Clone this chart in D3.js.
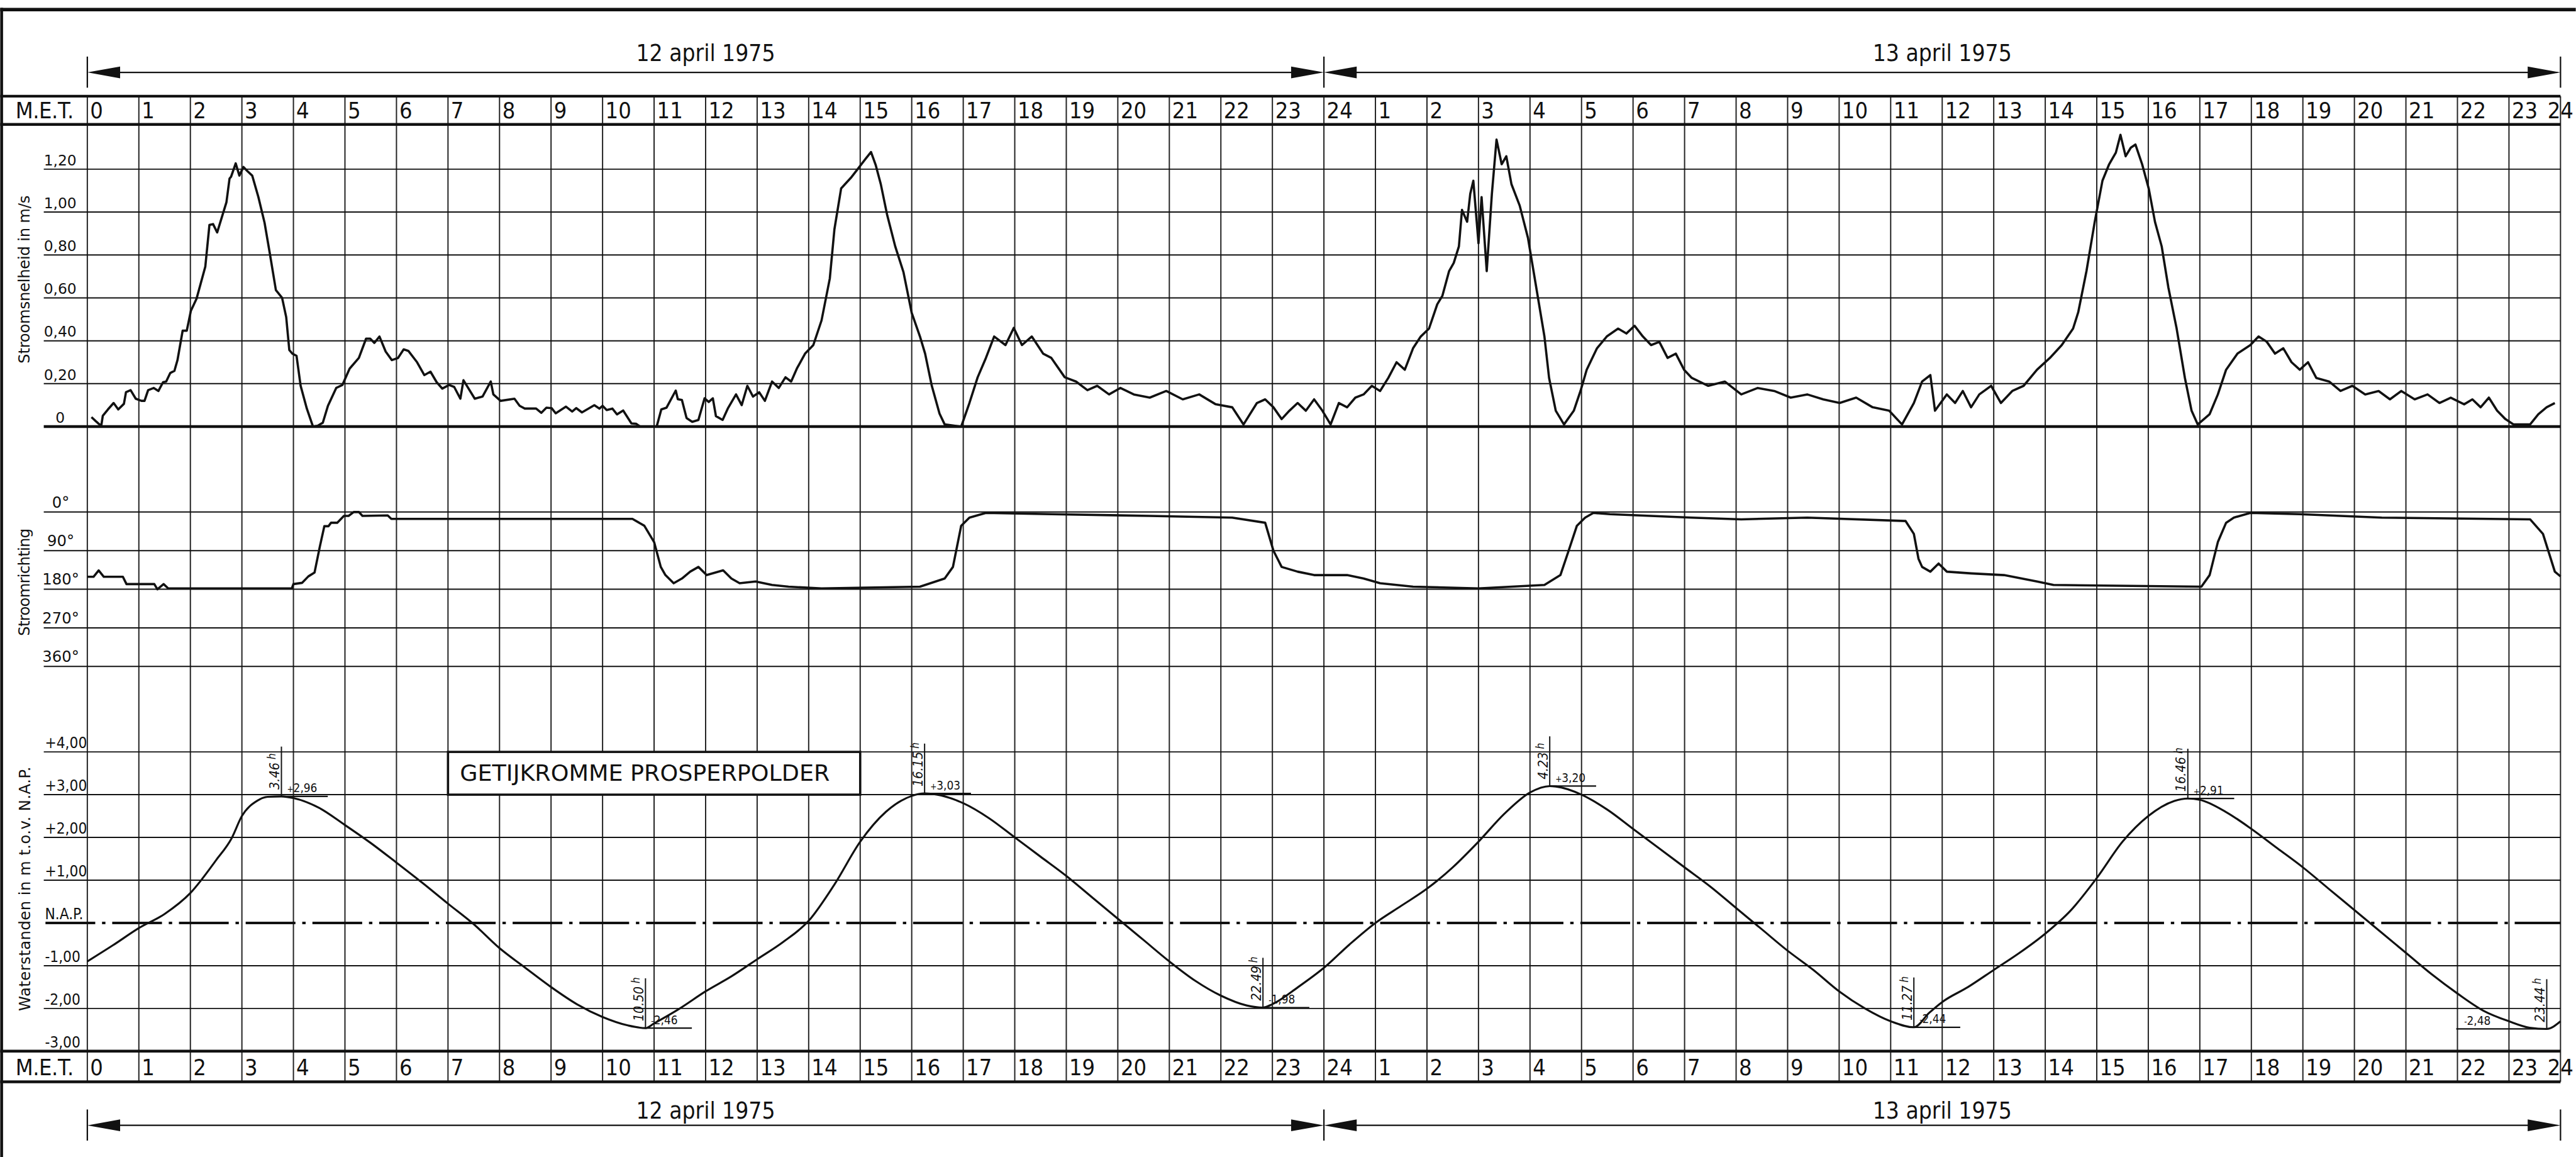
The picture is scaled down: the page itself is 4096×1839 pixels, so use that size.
<!DOCTYPE html>
<html>
<head>
<meta charset="utf-8">
<script src="https://cdn.jsdelivr.net/npm/d3@7"></script>
<style>
  html, body { margin: 0; padding: 0; background: #fff; overflow: hidden; }
  svg { display: block; }
</style>
</head>
<body>
<script>
// ---------- DATA ----------
var hourLabels = ["0","1","2","3","4","5","6","7","8","9","10","11","12","13","14","15","16","17","18","19","20","21","22","23",
                  "24","1","2","3","4","5","6","7","8","9","10","11","12","13","14","15","16","17","18","19","20","21","22","23","24"];
var dayLabels = ["12 april 1975", "13 april 1975"];

var speedTicks = [0, 0.2, 0.4, 0.6, 0.8, 1.0, 1.2];
var speedTickLabels = ["0", "0,20", "0,40", "0,60", "0,80", "1,00", "1,20"];
var dirTicks = [0, 90, 180, 270, 360];
var dirTickLabels = ["0°", "90°", "180°", "270°", "360°"];
var tideTicks = [4, 3, 2, 1, 0, -1, -2, -3];
var tideTickLabels = ["+4,00", "+3,00", "+2,00", "+1,00", "N.A.P.", "-1,00", "-2,00", "-3,00"];

// stroomsnelheid (m/s) : [hour, value]
var speed = [[0.08,0.044],[0.16,0.026],[0.27,0.003],[0.30,0.05],[0.40,0.08],[0.51,0.11],[0.60,0.08],[0.71,0.106],[0.75,0.16],[0.84,0.17],
  [0.94,0.13],[1.05,0.12],[1.11,0.12],[1.18,0.17],[1.29,0.18],[1.38,0.166],[1.47,0.207],[1.53,0.21],[1.61,0.25],[1.69,0.26],[1.75,0.31],
  [1.85,0.447],[1.93,0.447],[2.01,0.54],[2.12,0.596],[2.29,0.746],[2.37,0.94],[2.44,0.944],[2.52,0.905],[2.70,1.046],[2.76,1.156],
  [2.79,1.165],[2.88,1.227],[2.95,1.17],[3.03,1.21],[3.11,1.19],[3.20,1.17],[3.32,1.07],[3.44,0.95],[3.54,0.81],[3.66,0.636],[3.78,0.60],
  [3.86,0.51],[3.92,0.357],[3.98,0.34],[4.06,0.33],[4.14,0.19],[4.26,0.084],[4.38,0.0],[4.47,0.004],[4.57,0.018],[4.67,0.097],[4.83,0.18],
  [4.95,0.194],[5.09,0.27],[5.27,0.32],[5.41,0.41],[5.49,0.41],[5.57,0.39],[5.67,0.42],[5.79,0.35],[5.91,0.31],[6.03,0.32],[6.14,0.36],
  [6.23,0.353],[6.40,0.30],[6.54,0.24],[6.66,0.256],[6.78,0.207],[6.89,0.177],[7.02,0.194],[7.12,0.185],[7.24,0.13],[7.30,0.216],[7.52,0.13],
  [7.67,0.14],[7.83,0.21],[7.88,0.15],[8.02,0.12],[8.29,0.13],[8.39,0.097],[8.49,0.084],[8.71,0.084],[8.81,0.064],[8.91,0.088],[9.01,0.086],
  [9.09,0.062],[9.29,0.093],[9.41,0.07],[9.49,0.086],[9.60,0.066],[9.84,0.10],[9.94,0.084],[10.0,0.097],[10.08,0.077],[10.19,0.084],
  [10.28,0.057],[10.40,0.075],[10.56,0.015],[10.65,0.013],[10.73,0.0],[11.05,0.0],[11.14,0.08],[11.24,0.088],[11.42,0.168],[11.46,0.128],
  [11.54,0.124],[11.63,0.04],[11.74,0.022],[11.86,0.031],[11.98,0.132],[12.06,0.115],[12.14,0.132],[12.2,0.049],[12.33,0.031],[12.43,0.084],
  [12.59,0.15],[12.7,0.10],[12.81,0.19],[12.92,0.14],[13.04,0.16],[13.15,0.12],[13.29,0.21],[13.42,0.18],[13.55,0.23],[13.66,0.21],
  [13.77,0.27],[13.93,0.34],[14.09,0.38],[14.25,0.495],[14.41,0.69],[14.5,0.92],[14.63,1.11],[14.82,1.16],[14.95,1.20],[15.11,1.25],
  [15.21,1.28],[15.3,1.22],[15.4,1.13],[15.52,0.99],[15.68,0.84],[15.84,0.72],[16.0,0.53],[16.16,0.42],[16.26,0.34],[16.39,0.19],
  [16.54,0.06],[16.64,0.01],[16.96,0.0],[17.12,0.11],[17.28,0.23],[17.44,0.32],[17.6,0.42],[17.82,0.38],[17.98,0.46],[18.14,0.38],
  [18.33,0.42],[18.55,0.34],[18.71,0.32],[18.97,0.23],[19.19,0.21],[19.41,0.17],[19.6,0.19],[19.83,0.15],[20.05,0.18],[20.31,0.15],
  [20.62,0.135],[20.94,0.166],[21.26,0.127],[21.58,0.15],[21.9,0.104],[22.22,0.09],[22.44,0.01],[22.7,0.11],[22.86,0.127],[23.02,0.09],
  [23.18,0.035],[23.33,0.074],[23.49,0.11],[23.65,0.074],[23.81,0.127],[23.97,0.074],[24.13,0.01],[24.29,0.11],[24.45,0.09],[24.61,0.135],
  [24.77,0.15],[24.93,0.19],[25.09,0.166],[25.25,0.227],[25.41,0.30],[25.57,0.265],[25.73,0.365],[25.88,0.42],[26.04,0.457],[26.2,0.57],
  [26.3,0.61],[26.43,0.725],[26.52,0.763],[26.62,0.84],[26.68,1.01],[26.78,0.955],[26.84,1.085],[26.9,1.146],[27.0,0.855],[27.06,1.07],
  [27.16,0.725],[27.26,1.085],[27.35,1.338],[27.45,1.223],[27.54,1.26],[27.64,1.13],[27.8,1.03],[27.96,0.88],[28.12,0.65],[28.28,0.42],
  [28.37,0.227],[28.5,0.074],[28.66,0.01],[28.85,0.074],[28.98,0.166],[29.1,0.265],[29.3,0.365],[29.49,0.42],[29.71,0.457],[29.87,0.434],
  [30.03,0.47],[30.19,0.42],[30.35,0.38],[30.51,0.395],[30.67,0.32],[30.83,0.34],[30.99,0.265],[31.14,0.227],[31.46,0.19],[31.78,0.21],
  [32.1,0.15],[32.42,0.18],[32.74,0.166],[33.06,0.135],[33.38,0.15],[33.69,0.127],[34.01,0.11],[34.33,0.135],[34.65,0.09],[34.97,0.074],
  [35.22,0.01],[35.45,0.11],[35.61,0.21],[35.77,0.24],[35.86,0.074],[36.09,0.15],[36.25,0.11],[36.4,0.166],[36.56,0.09],[36.72,0.15],
  [36.95,0.19],[37.14,0.11],[37.36,0.166],[37.58,0.19],[37.84,0.265],[38.09,0.32],[38.32,0.38],[38.54,0.457],[38.64,0.533],[38.8,0.725],
  [38.96,0.954],[39.11,1.146],[39.24,1.223],[39.37,1.277],[39.46,1.36],[39.56,1.26],[39.66,1.3],[39.75,1.315],[39.88,1.223],[40.01,1.108],
  [40.13,0.954],[40.26,0.84],[40.39,0.648],[40.55,0.457],[40.71,0.227],[40.84,0.074],[40.96,0.01],[41.19,0.058],[41.35,0.15],[41.51,0.265],
  [41.73,0.34],[41.98,0.38],[42.14,0.42],[42.3,0.395],[42.46,0.34],[42.62,0.365],[42.78,0.30],[42.94,0.265],[43.1,0.30],[43.26,0.227],
  [43.51,0.21],[43.73,0.166],[43.96,0.19],[44.21,0.15],[44.47,0.166],[44.69,0.127],[44.91,0.166],[45.17,0.127],[45.42,0.15],[45.65,0.11],
  [45.87,0.135],[46.13,0.104],[46.29,0.127],[46.45,0.09],[46.61,0.135],[46.77,0.074],[46.93,0.035],[47.09,0.01],[47.41,0.01],[47.57,0.058],
  [47.73,0.09],[47.89,0.11]];

// stroomrichting (graden) : [hour, degrees]
var direction = [[0,151],[0.12,151],[0.22,136],[0.32,151],[0.69,151],[0.76,168],[1.3,168],[1.36,180],[1.48,168],[1.57,178],[3.97,178],
  [4.0,168],[4.17,165],[4.29,150],[4.41,141],[4.51,82],[4.6,33],[4.68,33],[4.73,25],[4.85,25],[4.98,9],[5.07,9],[5.17,0],[5.27,0],
  [5.34,9],[5.83,8],[5.9,16],[10.58,16],[10.81,32],[11.0,70],[11.13,128],[11.22,147],[11.38,166],[11.54,155],[11.7,139],[11.86,128],
  [12.02,147],[12.34,136],[12.5,155],[12.66,166],[12.97,162],[13.29,170],[13.61,174],[14.25,178],[16.16,174],[16.64,155],[16.8,128],
  [16.96,32],[17.12,13],[17.44,2],[18.71,5],[20.62,9],[22.22,13],[22.86,25],[23.02,90],[23.18,128],[23.49,139],[23.81,147],[24.45,147],
  [24.77,155],[25.09,166],[25.73,174],[27.0,178],[28.28,170],[28.59,147],[28.75,90],[28.91,32],[29.07,13],[29.23,2],[29.55,5],[31.14,13],
  [32.1,17],[33.38,13],[35.29,21],[35.45,51],[35.54,109],[35.61,128],[35.77,139],[35.93,120],[36.09,139],[36.56,143],[37.2,147],
  [37.84,162],[38.16,170],[41.03,174],[41.19,147],[41.35,70],[41.51,25],[41.66,13],[41.98,2],[42.94,5],[44.53,13],[47.41,17],[47.66,51],
  [47.89,139],[48,150]];

// waterstand (m t.o.v. N.A.P.) : [hour, level]
var tide = [[0,-0.90],[0.5,-0.52],[1,-0.12],[1.5,0.21],[2,0.70],[2.5,1.47],[2.8,1.98],[3,2.50],[3.3,2.86],[3.5,2.95],[3.767,2.96],
  [4,2.92],[4.5,2.69],[5,2.29],[5.5,1.87],[6,1.41],[6.5,0.94],[7,0.45],[7.5,-0.03],[8,-0.59],[8.5,-1.05],[9,-1.5],[9.5,-1.9],[10,-2.2],
  [10.5,-2.4],[10.833,-2.46],[11,-2.35],[11.5,-2.0],[12,-1.6],[12.5,-1.25],[13,-0.85],[13.5,-0.45],[14,0.05],[14.5,0.9],[15,1.9],
  [15.5,2.6],[16,2.97],[16.25,3.03],[16.5,3.0],[17,2.8],[17.5,2.45],[18,2.0],[18.5,1.55],[19,1.1],[19.5,0.6],[20,0.1],[20.5,-0.4],
  [21,-0.9],[21.5,-1.35],[22,-1.7],[22.5,-1.93],[22.817,-1.98],[23,-1.9],[23.5,-1.5],[24,-1.05],[24.5,-0.5],[25,0.0],[25.5,0.4],
  [26,0.8],[26.5,1.3],[27,1.9],[27.5,2.55],[28,3.05],[28.383,3.20],[28.5,3.19],[29,3.0],[29.5,2.65],[30,2.2],[30.5,1.75],[31,1.3],
  [31.5,0.85],[32,0.35],[32.5,-0.15],[33,-0.65],[33.5,-1.1],[34,-1.6],[34.5,-2.0],[35,-2.3],[35.45,-2.44],[35.75,-2.1],[36,-1.85],
  [36.5,-1.5],[37,-1.1],[37.5,-0.7],[38,-0.25],[38.5,0.3],[39,1.05],[39.5,1.9],[40,2.5],[40.5,2.85],[40.767,2.91],[41,2.88],[41.5,2.6],
  [42,2.2],[42.5,1.75],[43,1.3],[43.5,0.8],[44,0.3],[44.5,-0.2],[45,-0.7],[45.5,-1.2],[46,-1.65],[46.5,-2.05],[47,-2.3],[47.4,-2.45],
  [47.733,-2.48],[48,-2.3]];

// hoog- en laagwater
var extremeHours = [3.767, 10.833, 16.25, 22.817, 28.383, 35.45, 40.767, 47.733];
var extremeTimes = ["3.46", "10.50", "16.15", "22.49", "4.23", "11.27", "16.46", "23.44"];
var extremeLevels = [2.96, -2.46, 3.03, -1.98, 3.20, -2.44, 2.91, -2.48];
var extremeLevelLabels = ["2,96", "2,46", "3,03", "1,98", "3,20", "2,44", "2,91", "2,48"];

var title = "GETIJKROMME PROSPERPOLDER";

// ---------- DIMENSIONS ----------
var W = 4554, H = 2045;
var narrow = "'DejaVu Sans Condensed', 'Liberation Sans Narrow', 'DejaVu Sans', sans-serif";
var wide = "'DejaVu Sans', 'Open Sans', sans-serif";

var x = d3.scaleLinear().domain([0, 48]).range([154, 4527]);
var ySpeed = d3.scaleLinear().domain([0, 1.2]).range([754, 299]);
var yDir = d3.scaleLinear().domain([0, 360]).range([905, 1178]);
var yTide = d3.scaleLinear().domain([-3, 4]).range([1858, 1329]);

var gridLeft = 77;
var right = x(48);
var rowA = [170, 220], rowB = [1858, 1912];

var svg = d3.select("body").append("svg")
  .attr("width", 4096).attr("height", 1839)
  .attr("viewBox", "0 0 " + W + " " + H);

function hline(g, y, x1, x2, w) {
  return g.append("line").attr("x1", x1).attr("x2", x2).attr("y1", y).attr("y2", y)
    .attr("stroke", "#111").attr("stroke-width", w);
}

// ---------- FRAME ----------
var frame = svg.append("g");
hline(frame, 17, 0, W, 6);
frame.append("line").attr("x1", 2.5).attr("x2", 2.5).attr("y1", 14).attr("y2", H)
  .attr("stroke", "#111").attr("stroke-width", 5);

// ---------- GRID ----------
var grid = svg.append("g");
grid.selectAll("line.v").data(d3.range(0, 49)).enter().append("line")
  .attr("x1", d => x(d)).attr("x2", d => x(d))
  .attr("y1", rowA[0]).attr("y2", rowB[1])
  .attr("stroke", "#222").attr("stroke-width", 2.2);

speedTicks.forEach(function (v) { hline(grid, ySpeed(v), gridLeft, right, v === 0 ? 5 : 2.2); });
dirTicks.forEach(function (v) { hline(grid, yDir(v), gridLeft, right, 2.2); });
tideTicks.filter(v => v !== 0 && v !== -3).forEach(function (v) { hline(grid, yTide(v), gridLeft, right, 2.2); });

hline(grid, yTide(0), 80, right, 4.5).attr("stroke-dasharray", "88,12,6,12");

// M.E.T. rows
[rowA, rowB].forEach(function (r) {
  hline(grid, r[0], 0, right, 5);
  hline(grid, r[1], 0, right, 5);
  grid.append("text").text("M.E.T.")
    .attr("x", 27).attr("y", r[1] - 11)
    .attr("font-family", narrow).attr("font-size", 40).attr("textLength", 103)
    .attr("fill", "#111");
  grid.selectAll(null).data(hourLabels).enter().append("text")
    .text(d => d)
    .attr("x", (d, i) => i < 48 ? x(i) + 5 : x(i) - 23)
    .attr("y", r[1] - 11)
    .attr("font-family", narrow).attr("font-size", 40)
    .attr("fill", "#111");
});

// ---------- DATE ARROWS ----------
function arrowRow(yLine, yText) {
  var g = svg.append("g");
  [0, 24, 48].forEach(function (h) {
    g.append("line").attr("x1", x(h)).attr("x2", x(h)).attr("y1", yLine - 28).attr("y2", yLine + 27)
      .attr("stroke", "#111").attr("stroke-width", 2.5);
  });
  dayLabels.forEach(function (lab, i) {
    var a = x(i * 24), b = x(i * 24 + 24);
    hline(g, yLine, a + 40, b - 40, 2.5);
    g.append("path").attr("d", "M" + a + "," + yLine + "L" + (a + 58) + "," + (yLine - 10.5) + "L" + (a + 58) + "," + (yLine + 10.5) + "Z").attr("fill", "#111");
    g.append("path").attr("d", "M" + b + "," + yLine + "L" + (b - 58) + "," + (yLine - 10.5) + "L" + (b - 58) + "," + (yLine + 10.5) + "Z").attr("fill", "#111");
    g.append("text").text(lab)
      .attr("x", (a + b) / 2).attr("y", yText)
      .attr("text-anchor", "middle")
      .attr("font-family", narrow).attr("font-size", 41)
      .attr("fill", "#111");
  });
}
arrowRow(128, 108);
arrowRow(1989, 1977);

// ---------- AXIS LABELS ----------
var labels = svg.append("g").attr("fill", "#111");
labels.selectAll("text.sp").data(speedTicks).enter().append("text")
  .text((d, i) => speedTickLabels[i])
  .attr("x", 106).attr("y", d => ySpeed(d) - 7)
  .attr("text-anchor", "middle")
  .attr("font-family", wide).attr("font-size", 26);

labels.selectAll("text.dir").data(dirTicks).enter().append("text")
  .text((d, i) => dirTickLabels[i])
  .attr("x", 107).attr("y", d => yDir(d) - 8)
  .attr("text-anchor", "middle")
  .attr("font-family", wide).attr("font-size", 27);

labels.selectAll("text.tide").data(tideTicks).enter().append("text")
  .text((d, i) => tideTickLabels[i])
  .attr("x", 79).attr("y", d => yTide(d) - 7)
  .attr("font-family", narrow).attr("font-size", 27);

function vTitle(txt, cx, cy, len) {
  labels.append("text").text(txt)
    .attr("transform", "translate(" + cx + "," + cy + ") rotate(-90)")
    .attr("text-anchor", "middle")
    .attr("textLength", len).attr("lengthAdjust", "spacing")
    .attr("font-family", wide).attr("font-size", 27);
}
vTitle("Stroomsnelheid in m/s", 52, 494, 297);
vTitle("Stroomrichting", 52, 1029, 190);
vTitle("Waterstanden in m t.o.v. N.A.P.", 53, 1571, 432);

// ---------- TITLE BOX ----------
svg.append("rect")
  .attr("x", x(7)).attr("y", yTide(4))
  .attr("width", x(15) - x(7)).attr("height", yTide(3) - yTide(4))
  .attr("fill", "#fff").attr("stroke", "#111").attr("stroke-width", 4);
svg.append("text").text(title)
  .attr("x", x(7) + 21).attr("y", yTide(3) - 24)
  .attr("textLength", 654).attr("lengthAdjust", "spacingAndGlyphs")
  .attr("font-family", narrow).attr("font-size", 40)
  .attr("fill", "#111");

// ---------- CURVES ----------
svg.append("path").datum(speed)
  .attr("d", d3.line().x(d => x(d[0])).y(d => ySpeed(d[1])))
  .attr("fill", "none").attr("stroke", "#111").attr("stroke-width", 4).attr("stroke-linejoin", "round");

svg.append("path").datum(direction)
  .attr("d", d3.line().x(d => x(d[0])).y(d => yDir(d[1])))
  .attr("fill", "none").attr("stroke", "#111").attr("stroke-width", 4).attr("stroke-linejoin", "round");

svg.append("path").datum(tide)
  .attr("d", d3.line().curve(d3.curveMonotoneX).x(d => x(d[0])).y(d => yTide(d[1])))
  .attr("fill", "none").attr("stroke", "#111").attr("stroke-width", 3.5);

// ---------- HW / LW ANNOTATIONS ----------
var ann = svg.append("g").attr("fill", "#111");
extremeHours.forEach(function (h, i) {
  var vx = x(h), vy = yTide(extremeLevels[i]);
  var last = i === extremeHours.length - 1;
  ann.append("line").attr("x1", vx).attr("x2", vx).attr("y1", vy).attr("y2", vy - 88)
    .attr("stroke", "#111").attr("stroke-width", 2.2);
  hline(ann, vy, last ? vx - 160 : vx, last ? vx : vx + 82, 2.5);

  var lab = ann.append("text")
    .attr("x", last ? vx - 146 : vx + 10).attr("y", vy - 7)
    .attr("font-family", narrow).attr("font-size", 21);
  lab.append("tspan").text(extremeLevels[i] > 0 ? "+" : "-").attr("font-size", 15);
  lab.append("tspan").text(extremeLevelLabels[i]);

  var t = ann.append("text")
    .attr("transform", "translate(" + (vx - 4) + "," + (vy - 12) + ") rotate(-90)")
    .attr("font-family", narrow).attr("font-size", 24).attr("font-style", "italic");
  t.append("tspan").text(extremeTimes[i]);
  t.append("tspan").text(" h").attr("font-size", 19).attr("dy", -6);
});
</script>
</body>
</html>
